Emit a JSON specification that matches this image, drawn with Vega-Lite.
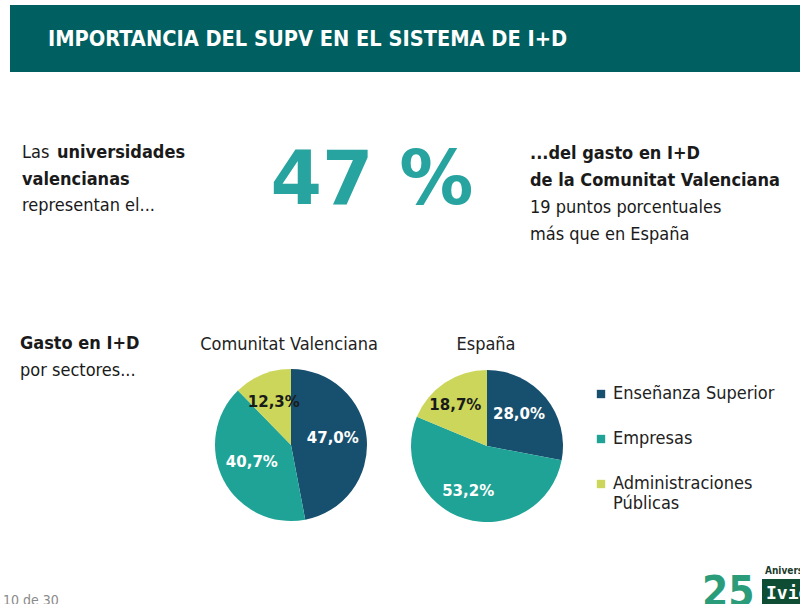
{
  "$schema": "https://vega.github.io/schema/vega-lite/v6.json",
  "width": 800,
  "height": 604,
  "padding": 0,
  "autosize": {"type": "none"},
  "background": "white",
  "config": {"view": {"stroke": null}},
  "data": {
    "values": [
      {"region": "Comunitat Valenciana", "sector": "Enseñanza Superior", "o": 1, "value": 47.0},
      {"region": "Comunitat Valenciana", "sector": "Empresas", "o": 2, "value": 40.7},
      {"region": "Comunitat Valenciana", "sector": "Administraciones Públicas", "o": 3, "value": 12.3},
      {"region": "España", "sector": "Enseñanza Superior", "o": 1, "value": 28.0},
      {"region": "España", "sector": "Empresas", "o": 2, "value": 53.2},
      {"region": "España", "sector": "Administraciones Públicas", "o": 3, "value": 18.7}
    ]
  },
  "transform": [
    {"calculate": "replace(format(datum.value, '.1f'), '.', ',') + '%'", "as": "label"}
  ],
  "layer": [
    {
      "data": {"values": [{}]},
      "mark": {"type": "rect", "x": 10, "y": 5, "x2": 800, "y2": 72, "color": "#005F60"},
      "encoding": {}
    },
    {
      "data": {"values": [{}]},
      "mark": {"type": "text", "x": 48, "y": 46, "text": "IMPORTANCIA DEL SUPV EN EL SISTEMA DE I+D", "font": "DejaVu Sans Condensed", "fontWeight": "bold", "fontSize": 21.6, "color": "white", "align": "left", "baseline": "alphabetic"}
    },
    {
      "data": {"values": [{}]},
      "mark": {"type": "text", "x": 22, "y": 158, "text": "Las", "font": "DejaVu Sans Condensed", "fontSize": 18, "color": "#1a1a1a", "align": "left", "baseline": "alphabetic"}
    },
    {
      "data": {"values": [{}]},
      "mark": {"type": "text", "x": 57, "y": 158, "text": "universidades", "font": "DejaVu Sans Condensed", "fontWeight": "bold", "fontSize": 18, "color": "#1a1a1a", "align": "left", "baseline": "alphabetic"}
    },
    {
      "data": {"values": [{}]},
      "mark": {"type": "text", "x": 22, "y": 185, "text": "valencianas", "font": "DejaVu Sans Condensed", "fontWeight": "bold", "fontSize": 18, "color": "#1a1a1a", "align": "left", "baseline": "alphabetic"}
    },
    {
      "data": {"values": [{}]},
      "mark": {"type": "text", "x": 22, "y": 211, "text": "representan el...", "font": "DejaVu Sans Condensed", "fontSize": 18, "color": "#1a1a1a", "align": "left", "baseline": "alphabetic"}
    },
    {
      "data": {"values": [{}]},
      "mark": {"type": "text", "x": 372, "y": 204, "text": "47 %", "font": "DejaVu Sans", "fontWeight": "bold", "fontSize": 74, "color": "#27A3A0", "align": "center", "baseline": "alphabetic"}
    },
    {
      "data": {"values": [{}]},
      "mark": {"type": "text", "x": 530, "y": 159, "text": "...del gasto en I+D", "font": "DejaVu Sans Condensed", "fontWeight": "bold", "fontSize": 18, "color": "#1a1a1a", "align": "left", "baseline": "alphabetic"}
    },
    {
      "data": {"values": [{}]},
      "mark": {"type": "text", "x": 530, "y": 186, "text": "de la Comunitat Valenciana", "font": "DejaVu Sans Condensed", "fontWeight": "bold", "fontSize": 18, "color": "#1a1a1a", "align": "left", "baseline": "alphabetic"}
    },
    {
      "data": {"values": [{}]},
      "mark": {"type": "text", "x": 530, "y": 213, "text": "19 puntos porcentuales", "font": "DejaVu Sans Condensed", "fontSize": 18, "color": "#1a1a1a", "align": "left", "baseline": "alphabetic"}
    },
    {
      "data": {"values": [{}]},
      "mark": {"type": "text", "x": 530, "y": 240, "text": "más que en España", "font": "DejaVu Sans Condensed", "fontSize": 18, "color": "#1a1a1a", "align": "left", "baseline": "alphabetic"}
    },
    {
      "data": {"values": [{}]},
      "mark": {"type": "rule", "x": 336, "y": 247, "x2": 368, "y2": 278, "color": "#C8D44B", "strokeWidth": 4, "strokeCap": "round"},
      "encoding": {}
    },
    {
      "data": {"values": [{}]},
      "mark": {"type": "rule", "x": 368, "y": 278, "x2": 400, "y2": 247, "color": "#C8D44B", "strokeWidth": 4, "strokeCap": "round"},
      "encoding": {}
    },
    {
      "data": {"values": [{}]},
      "mark": {"type": "text", "x": 20, "y": 349, "text": "Gasto en I+D", "font": "DejaVu Sans Condensed", "fontWeight": "bold", "fontSize": 18, "color": "#1a1a1a", "align": "left", "baseline": "alphabetic"}
    },
    {
      "data": {"values": [{}]},
      "mark": {"type": "text", "x": 20, "y": 376, "text": "por sectores...", "font": "DejaVu Sans Condensed", "fontSize": 18, "color": "#1a1a1a", "align": "left", "baseline": "alphabetic"}
    },
    {
      "data": {"values": [{}]},
      "mark": {"type": "text", "x": 289, "y": 350, "text": "Comunitat Valenciana", "font": "DejaVu Sans Condensed", "fontSize": 18, "color": "#222222", "align": "center", "baseline": "alphabetic"}
    },
    {
      "data": {"values": [{}]},
      "mark": {"type": "text", "x": 486, "y": 350, "text": "España", "font": "DejaVu Sans Condensed", "fontSize": 18, "color": "#222222", "align": "center", "baseline": "alphabetic"}
    },
    {
      "transform": [{"filter": "datum.region === 'Comunitat Valenciana'"}],
      "mark": {"type": "arc", "radius": 76},
      "encoding": {
        "theta": {"field": "value", "type": "quantitative", "stack": "normalize"},
        "order": {"field": "o", "type": "quantitative"},
        "color": {
          "field": "sector",
          "type": "nominal",
          "scale": {"domain": ["Enseñanza Superior", "Empresas", "Administraciones Públicas"], "range": ["#17506F", "#1FA396", "#CBD65A"]},
          "legend": {
            "orient": "none",
            "legendX": 592,
            "legendY": 385,
            "title": null,
            "symbolType": "square",
            "symbolSize": 70,
            "symbolStrokeWidth": 0,
            "labelFont": "DejaVu Sans Condensed",
            "labelFontSize": 18,
            "labelColor": "#222222",
            "labelLimit": 300,
            "labelOffset": 3,
            "rowPadding": 27,
            "labelExpr": "datum.label === 'Administraciones Públicas' ? ['Administraciones', 'Públicas'] : datum.label"
          }
        },
        "x": {"value": 291},
        "y": {"value": 445}
      }
    },
    {
      "transform": [{"filter": "datum.region === 'España'"}],
      "mark": {"type": "arc", "radius": 76},
      "encoding": {
        "theta": {"field": "value", "type": "quantitative", "stack": "normalize"},
        "order": {"field": "o", "type": "quantitative"},
        "color": {"field": "sector", "type": "nominal"},
        "x": {"value": 487},
        "y": {"value": 446}
      }
    },
    {
      "transform": [{"filter": "datum.region === 'Comunitat Valenciana'"}],
      "mark": {"type": "text", "radius": 43, "font": "DejaVu Sans", "fontWeight": "bold", "fontSize": 15},
      "encoding": {
        "theta": {"field": "value", "type": "quantitative", "stack": "normalize"},
        "order": {"field": "o", "type": "quantitative"},
        "detail": {"field": "sector", "type": "nominal"},
        "text": {"field": "label", "type": "nominal"},
        "color": {"condition": {"test": "datum.sector === 'Administraciones Públicas'", "value": "#1a1a1a"}, "value": "white"},
        "x": {"value": 290},
        "y": {"value": 442}
      }
    },
    {
      "transform": [{"filter": "datum.region === 'España'"}],
      "mark": {"type": "text", "radius": 48, "font": "DejaVu Sans", "fontWeight": "bold", "fontSize": 15},
      "encoding": {
        "theta": {"field": "value", "type": "quantitative", "stack": "normalize"},
        "order": {"field": "o", "type": "quantitative"},
        "detail": {"field": "sector", "type": "nominal"},
        "text": {"field": "label", "type": "nominal"},
        "color": {"condition": {"test": "datum.sector === 'Administraciones Públicas'", "value": "#1a1a1a"}, "value": "white"},
        "x": {"value": 482},
        "y": {"value": 445}
      }
    },
    {
      "data": {"values": [{}]},
      "mark": {"type": "text", "x": 3, "y": 605, "text": "10 de 30", "font": "DejaVu Sans Condensed", "fontSize": 14, "color": "#8a8a8a", "align": "left", "baseline": "alphabetic"}
    },
    {
      "data": {"values": [{}]},
      "mark": {"type": "text", "x": 702, "y": 606, "text": "25", "font": "DejaVu Sans Condensed", "fontWeight": "bold", "fontSize": 42, "color": "#2B9C7A", "align": "left", "baseline": "alphabetic"}
    },
    {
      "data": {"values": [{}]},
      "mark": {"type": "text", "x": 765, "y": 574, "text": "Aniversa", "font": "DejaVu Sans Condensed", "fontWeight": "bold", "fontSize": 10, "color": "#1b3b2b", "align": "left", "baseline": "alphabetic"}
    },
    {
      "data": {"values": [{}]},
      "mark": {"type": "rect", "x": 762, "y": 579, "x2": 800, "y2": 604, "color": "#0E4D33"},
      "encoding": {}
    },
    {
      "data": {"values": [{}]},
      "mark": {"type": "text", "x": 766, "y": 599, "text": "Ivie", "font": "DejaVu Sans Mono", "fontWeight": "bold", "fontSize": 18, "color": "white", "align": "left", "baseline": "alphabetic"}
    }
  ]
}
